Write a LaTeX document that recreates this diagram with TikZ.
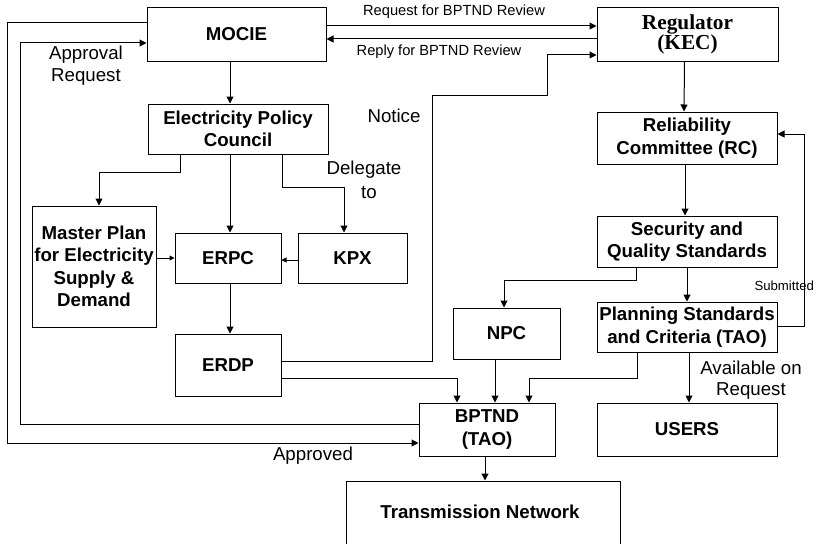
\documentclass[tikz,border=0pt]{standalone}
\usepackage{fontspec}
\setmainfont{Liberation Sans}
\newfontfamily\regfont{Liberation Serif}
\usetikzlibrary{arrows.meta}
\begin{document}
\begin{tikzpicture}[x=1pt,y=-1pt,line width=1pt,
  box/.style={draw, inner sep=0pt, align=center, font=\fontsize{18.67}{22.5}\selectfont\bfseries},
  lbl/.style={inner sep=0pt, align=center, font=\fontsize{18.67}{22}\selectfont},
  sml/.style={inner sep=0pt, font=\fontsize{14.67}{17}\selectfont},
  arr/.style={-{Triangle[length=7pt,width=7pt]}},
  sarr/.style={line width=0.8pt,-{Triangle[length=5pt,width=5pt]}},
]
\useasboundingbox (0,0) rectangle (818,543);
% boxes
\node[box, minimum width=179, minimum height=53] (mocie) at (236.5,34.5) {MOCIE};
\node[box, minimum width=181, minimum height=53, font=\fontsize{21.3}{20}\selectfont\regfont\bfseries] (reg) at (687.5,34.5) {Regulator\\(KEC)};
\node[box, minimum width=180, minimum height=50] (epc) at (238,129) {Electricity Policy\\Council};
\node[box, minimum width=180, minimum height=52] (rc) at (687,138) {Reliability\\Committee (RC)};
\node[box, minimum width=124, minimum height=121] (mp) at (94,266.5) {Master Plan\\for Electricity\\Supply \&\\Demand};
\node[box, minimum width=106, minimum height=50] (erpc) at (228,258) {ERPC};
\node[box, minimum width=109, minimum height=50] (kpx) at (352.5,258) {KPX};
\node[box, minimum width=180, minimum height=51] (sqs) at (687,241.5) {Security and\\Quality Standards};
\node[box, minimum width=107, minimum height=51] (npc) at (506.5,333.5) {NPC};
\node[box, minimum width=180, minimum height=50] (psc) at (687,327) {Planning Standards\\and Criteria (TAO)};
\node[box, minimum width=106, minimum height=62] (erdp) at (228,365) {ERDP};
\node[box, minimum width=136, minimum height=53] (bptnd) at (487,429.5) {BPTND\\(TAO)};
\node[box, minimum width=180, minimum height=53] (users) at (687,429.5) {USERS};
\node[box, minimum width=274, minimum height=80] (tn) at (483,521) {};
\node[box, draw=none] (tnlabel) at (480,512) {Transmission Network};
% connectors
\draw[arr] ([xshift=-6.5pt]mocie.south) -- ([xshift=-8pt]epc.north);
\draw[arr] ([yshift=8.5pt]mocie.east) -- ([yshift=8.5pt]reg.west);
\draw[arr] ([yshift=-4.5pt]reg.west) -- ([yshift=-4.5pt]mocie.east);
\draw[arr] ([yshift=4pt]erdp.east) -- ++(151,0) -- ++(0,-266) -- ++(115,0) |- ([yshift=-20.5pt]reg.west);
\draw[arr] ([xshift=-3pt]reg.south) -- ([xshift=-3pt]rc.north);
\draw[arr] ([xshift=-2pt]rc.south) -- ([xshift=-2pt]sqs.north);
\draw[arr] (sqs.south) -- (psc.north);
\draw[arr] ([xshift=-51pt]sqs.south) -- ++(0,13) -| ([xshift=-2.5pt]npc.north);
\draw[arr] ([yshift=1pt]psc.east) -- ++(27,0) |- ([yshift=4pt]rc.east);
\draw[arr] ([xshift=-50pt]psc.south) -- ++(0,26) -| ([xshift=42pt]bptnd.north);
\draw[arr] ([xshift=2pt]psc.south) -- ([xshift=2pt]users.north);
\draw[arr] ([xshift=-11.5pt]npc.south) -- ([xshift=8pt]bptnd.north);
\draw[arr] ([yshift=-13pt]erdp.east) -| ([xshift=-30pt]bptnd.north);
\draw[arr] ([xshift=-2pt]bptnd.south) -- ([xshift=2pt]tn.north);
\draw[arr] ([yshift=5.5pt]bptnd.west) -- ++(-398,0) |- ([yshift=-8.5pt]mocie.west);
\draw[arr] ([yshift=11.5pt]mocie.west) -- ++(-139,0) |- ([yshift=-13.5pt]bptnd.west);
\draw[arr] ([xshift=-58pt]epc.south) -- ++(0,18) -| ([xshift=5pt]mp.north);
\draw[arr] ([xshift=-8pt]epc.south) -- ([xshift=2pt]erpc.north);
\draw[arr] ([xshift=44pt]epc.south) -- ++(0,33) -| ([xshift=-8.5pt]kpx.north);
\draw[sarr] ([yshift=8.5pt]mp.east) -- ([yshift=0pt]erpc.west);
\draw[sarr] ([yshift=-2pt]kpx.west) -- ([yshift=-2pt]erpc.east);
\draw[arr] ([xshift=2pt]erpc.south) -- ([xshift=2pt]erdp.north);
% labels
\node[sml] (lreq) at (454,12) {Request for BPTND Review};
\node[sml] (lrep) at (439,52) {Reply for BPTND Review};
\node[lbl] (lnot) at (394,116) {Notice};
\node[lbl] (lapr) at (86,66) {Approval\\Request};
\node[lbl] (lapd) at (313,456) {Approved};
\node[lbl] (ldel) at (364,170) {Delegate};
\node[lbl] (lto) at (369,193) {to};
\node[lbl, font=\fontsize{18.67}{21}\selectfont] (lava) at (751,380) {Available on\\Request};
\node[sml, anchor=west, font=\fontsize{13.2}{15}\selectfont] (lsub) at (754,286) {Submitted};
\end{tikzpicture}
\end{document}
